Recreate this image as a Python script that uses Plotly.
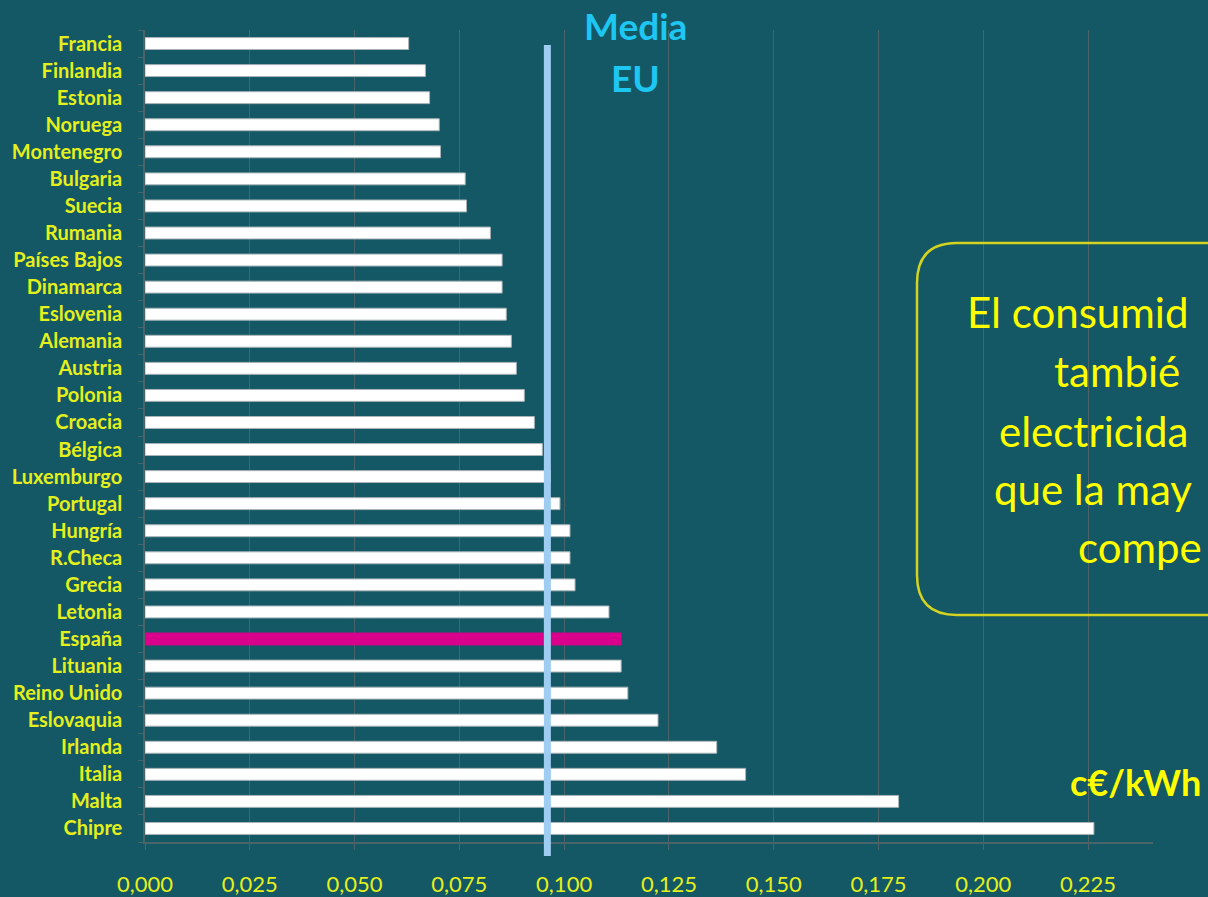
import plotly.graph_objects as go

countries = ["Francia", "Finlandia", "Estonia", "Noruega", "Montenegro", "Bulgaria",
             "Suecia", "Rumania", "Países Bajos", "Dinamarca", "Eslovenia", "Alemania",
             "Austria", "Polonia", "Croacia", "Bélgica", "Luxemburgo", "Portugal",
             "Hungría", "R.Checa", "Grecia", "Letonia", "España", "Lituania",
             "Reino Unido", "Eslovaquia", "Irlanda", "Italia", "Malta", "Chipre"]
prices = [0.0629, 0.0669, 0.0679, 0.0702, 0.0705, 0.0764,
          0.0767, 0.0824, 0.0852, 0.0852, 0.0862, 0.0874,
          0.0886, 0.0905, 0.0929, 0.0948, 0.0967, 0.0990,
          0.1014, 0.1014, 0.1026, 0.1107, 0.1136, 0.1136,
          0.1152, 0.1224, 0.1364, 0.1433, 0.1798, 0.2264]
highlight = "España"
eu_average = 0.0960
x_ticks = [0.0, 0.025, 0.05, 0.075, 0.1, 0.125, 0.15, 0.175, 0.2, 0.225]
box_lines = ["El consumid", "tambié", "electricida", "que la may", "compe"]
unit_label = "c€/kWh"
media_lines = ["Media", "EU"]

BG = "#135864"
GRID = "#4a6468"
LABEL = "#e4ef1c"
YELLOW = "#ffff00"

W, H = 1208, 897
L, R, T, B = 145, 55, 30, 55
PW, PH = W - L - R, H - T - B


def px_x(px):
    return (px - L) / PW


def px_y(py):
    return (H - B - py) / PH


colors = ["#d9008c" if c == highlight else "#ffffff" for c in countries]
lines = ["#d9008c" if c == highlight else "#a9b4b8" for c in countries]

fig = go.Figure()
fig.add_trace(go.Bar(
    x=prices, y=countries, orientation="h", width=0.44,
    marker=dict(color=colors, line=dict(color=lines, width=1)),
    hoverinfo="x+y", showlegend=False,
))

# EU average line
fig.add_shape(type="line", xref="x", yref="paper",
              x0=eu_average, x1=eu_average, y0=px_y(45), y1=px_y(856),
              line=dict(color="#9fcdf2", width=7), layer="above")

# rounded box
x0, x1 = px_x(917), px_x(1240)
y0, y1 = px_y(615), px_y(243)
rx, ry = 40 / PW, 40 / PH
path = (f"M {x0 + rx} {y1} L {x1} {y1} L {x1} {y0} L {x0 + rx} {y0} "
        f"Q {x0} {y0} {x0} {y0 + ry} L {x0} {y1 - ry} Q {x0} {y1} {x0 + rx} {y1} Z")
fig.add_shape(type="path", xref="paper", yref="paper", path=path,
              line=dict(color="#d4d420", width=2.5), fillcolor="rgba(0,0,0,0)")

annotations = []
starts = [965, 1052, 997, 992, 1076]
baselines = [328, 387, 447, 505, 563]
for txt, sx, by in zip(box_lines, starts, baselines):
    annotations.append(dict(text=txt, xref="paper", yref="paper",
                            x=px_x(sx), y=px_y(by - 16), xanchor="left", yanchor="middle",
                            showarrow=False,
                            font=dict(family="Lato, Carlito, sans-serif", size=42, color=YELLOW)))
for txt, cy in zip(media_lines, [25, 77]):
    annotations.append(dict(text=f"<b>{txt}</b>", xref="paper", yref="paper",
                            x=px_x(635), y=px_y(cy), xanchor="center", yanchor="middle",
                            showarrow=False,
                            font=dict(family="Lato, Carlito, sans-serif", size=37, color="#1ec6f2")))
annotations.append(dict(text=f"<b>{unit_label}</b>", xref="paper", yref="paper",
                        x=px_x(1068), y=px_y(782), xanchor="left", yanchor="middle",
                        showarrow=False,
                        font=dict(family="Lato, Carlito, sans-serif", size=36, color=YELLOW)))

fig.update_layout(
    width=W, height=H,
    margin=dict(l=L, r=R, t=T, b=B, autoexpand=False),
    paper_bgcolor=BG, plot_bgcolor=BG,
    separators=",.",
    annotations=annotations,
    xaxis=dict(range=[0, 0.2405], tickvals=x_ticks, tickformat=".3f",
               showgrid=True, gridcolor=GRID, gridwidth=1, zeroline=False,
               showline=True, linecolor=GRID, linewidth=1.5,
               ticks="outside", ticklen=6, tickcolor=GRID,
               ticklabelstandoff=16, automargin=False,
               tickfont=dict(family="Lato, Carlito, sans-serif", size=22, color=LABEL)),
    yaxis=dict(autorange="reversed", type="category", showgrid=False,
               showline=True, linecolor=GRID, linewidth=1.5,
               ticks="outside", ticklen=5, tickcolor=GRID, tickson="boundaries",
               ticklabelstandoff=17, automargin=False,
               tickfont=dict(family="Lato, Carlito, sans-serif", size=20, color=LABEL)),
)
fig.update_yaxes(tickmode="array", tickvals=countries,
                 ticktext=[f"<b>{c}</b>" for c in countries])

fig.write_html("out.html",
               config={"displayModeBar": False},
               post_script="document.body.style.margin='0';"
                           "document.body.style.background='" + BG + "';")
